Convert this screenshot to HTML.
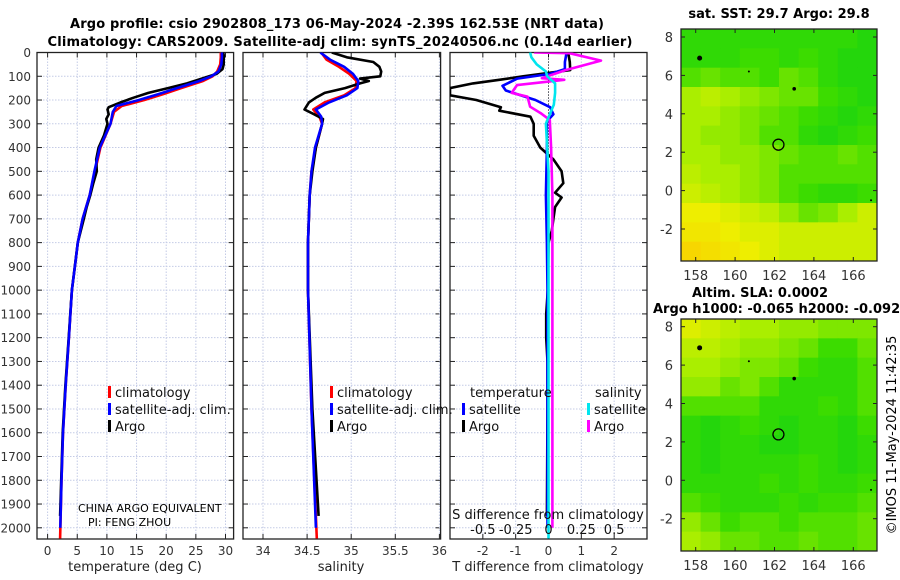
<!DOCTYPE html>
<html><head><meta charset="utf-8"><style>
html,body{margin:0;padding:0;background:#fff;}
svg{display:block;font-family:"DejaVu Sans","Liberation Sans",sans-serif;}
</style></head><body>
<svg id="fig" width="900" height="580" viewBox="0 0 900 580">
<text x="337" y="28" text-anchor="middle" font-size="13" font-weight="bold" textLength="534">Argo profile: csio 2902808_173 06-May-2024 -2.39S 162.53E (NRT data)</text>
<text x="340" y="46" text-anchor="middle" font-size="13" font-weight="bold" textLength="585">Climatology: CARS2009. Satellite-adj clim: synTS_20240506.nc (0.14d earlier)</text>
<g id="g1"></g>
<g id="g2"></g>
<g id="g3"></g>
<g id="m1"></g>
<g id="m2"></g>
<text x="78" y="512" font-size="11">CHINA ARGO EQUIVALENT</text>
<text x="88" y="526" font-size="11">PI: FENG ZHOU</text>
<text x="779" y="18" text-anchor="middle" font-size="13" font-weight="bold">sat. SST: 29.7 Argo: 29.8</text>
<text x="760" y="297" text-anchor="middle" font-size="13" font-weight="bold">Altim. SLA: 0.0002</text>
<text x="653" y="313" font-size="13" font-weight="bold">Argo h1000: -0.065 h2000: -0.092</text>
<text transform="translate(896,435) rotate(-90)" text-anchor="middle" font-size="13">©IMOS 11-May-2024 11:42:35</text>
</svg>
<script>
// ---- profile data ----
const tClimDepth=[0,20,50,80,100,120,150,175,200,225,250,300,400,500,600,700,800,900,1000,1200,1400,1600,1800,2045];
const tClim=[29.2,29.2,29.1,28.6,27.8,26.2,22.5,19.5,16.3,12.5,11.2,10.6,8.9,8.0,7.1,5.9,5.1,4.6,4.1,3.6,3.05,2.6,2.35,2.1];
const tSatDepth=[0,20,50,80,100,120,150,175,200,225,250,300,400,500,600,700,800,900,1000,1200,1400,1600,1800,2000];
const tSat=[29.4,29.4,29.3,28.8,27.6,25.6,21.8,18.7,15.4,11.6,11.0,10.6,8.8,7.9,7.1,5.9,5.1,4.6,4.1,3.6,3.05,2.6,2.35,2.15];
const tArgoDepth=[0,10,50,70,90,110,130,150,170,190,210,230,240,260,280,300,350,400,450,500,550,600,650,700,750,800,1000,1200,1400,1600,1800,1950];
const tArgo=[29.6,29.7,29.7,29.5,28.5,26.0,23.5,20.3,17.0,14.5,12.3,10.3,10.1,10.3,9.9,10.1,9.5,8.6,8.2,8.3,7.7,7.2,6.6,6.1,5.6,5.1,4.1,3.55,3.0,2.55,2.3,2.1];
const sClimDepth=[0,30,60,90,120,150,180,210,240,270,300,400,500,600,800,1000,1500,2045];
const sClim=[34.66,34.72,34.86,34.98,35.06,35.05,34.92,34.70,34.57,34.64,34.67,34.60,34.55,34.53,34.51,34.51,34.55,34.61];
const sSatDepth=[0,30,60,90,120,150,180,210,240,270,300,400,500,600,800,1000,1500,2000];
const sSat=[34.65,34.76,34.92,35.02,35.08,35.07,34.95,34.75,34.60,34.66,34.67,34.59,34.55,34.53,34.51,34.51,34.55,34.60];
const sArgoDepth=[0,20,40,60,80,100,110,120,130,150,170,190,210,240,260,280,300,400,500,600,800,1000,1500,1950];
const sArgo=[34.78,34.95,35.25,35.32,35.34,35.33,35.10,35.20,35.10,34.93,34.70,34.60,34.52,34.47,34.58,34.68,34.67,34.60,34.56,34.53,34.51,34.51,34.56,34.63];
const dTSatDepth=[0,40,70,90,110,140,160,200,230,260,290,400,600,800,1000,1500,2000];
const dTSat=[0.55,0.5,0.5,0.05,-0.95,-1.4,-1.3,-0.4,0.05,0.15,-0.05,-0.05,-0.08,-0.05,-0.03,-0.03,-0.03];
const dTArgoDepth=[0,40,74,100,115,130,150,180,200,230,245,270,300,350,400,450,500,550,590,610,650,700,750,800,1000,1100,1200,1300,1500,1950];
const dTArgo=[0.6,0.65,0.66,-0.77,-1.5,-2.3,-3.0,-3.0,-2.2,-1.45,-1.5,-0.55,-0.45,-0.45,-0.25,0.15,0.4,0.45,0.2,0.4,0.2,0.15,0.1,0.0,-0.02,-0.07,-0.07,-0.03,-0.03,-0.05];
const dSSatDepth=[0,20,50,80,100,130,170,220,260,300,500,1000,1500,2045];
const dSSat=[-0.14,-0.13,-0.09,-0.02,-0.01,0.05,0.05,0.04,0.01,-0.02,0.0,0.0,0.0,0.0];
const dSArgoDepth=[0,3,34,74,108,115,137,170,186,228,255,284,400,600,900,1500,2000];
const dSArgo=[-0.11,0.16,0.4,0.13,-0.05,0.12,-0.24,-0.28,-0.16,-0.14,-0.06,0.01,0.02,0.03,0.03,0.03,0.03];
const depthTicks=[0,100,200,300,400,500,600,700,800,900,1000,1100,1200,1300,1400,1500,1600,1700,1800,1900,2000];
const tempTicks=[0,5,10,15,20,25,30];
const salTicks=[34,34.5,35,35.5,36];
const salTickLabels=["34","34.5","35","35.5","36"];
const dTTicks=[-2,-1,0,1,2];
const dSTicks=[-0.5,-0.25,0,0.25,0.5];
const dSTickLabels=["-0.5","-0.25","0","0.25","0.5"];
// ---- map data (0 = dark green, 1 = orange) ----
const mapLonTicks=[158,160,162,164,166];
const mapLatTicks=[8,6,4,2,0,-2];
const sstGrid=[
[0.2,0.2,0.2,0.2,0.2,0.2,0.2,0.2,0.2,0.15],
[0.2,0.2,0.2,0.25,0.25,0.2,0.25,0.2,0.15,0.15],
[0.3,0.35,0.3,0.3,0.25,0.35,0.3,0.2,0.15,0.15],
[0.5,0.55,0.5,0.45,0.4,0.35,0.35,0.25,0.2,0.15],
[0.5,0.5,0.45,0.4,0.35,0.3,0.25,0.2,0.15,0.2],
[0.5,0.45,0.45,0.4,0.3,0.3,0.2,0.15,0.2,0.25],
[0.5,0.5,0.45,0.45,0.4,0.35,0.3,0.3,0.35,0.3],
[0.55,0.5,0.5,0.45,0.4,0.3,0.3,0.3,0.3,0.3],
[0.6,0.55,0.5,0.45,0.4,0.3,0.25,0.2,0.2,0.25],
[0.7,0.7,0.65,0.6,0.55,0.45,0.35,0.4,0.5,0.6],
[0.75,0.75,0.7,0.65,0.65,0.6,0.6,0.6,0.6,0.6],
[0.85,0.8,0.75,0.7,0.65,0.6,0.6,0.6,0.6,0.6]];
const slaGrid=[
[0.65,0.6,0.55,0.5,0.5,0.45,0.45,0.4,0.4,0.4],
[0.55,0.55,0.5,0.45,0.45,0.4,0.35,0.25,0.25,0.35],
[0.5,0.5,0.45,0.4,0.4,0.35,0.25,0.2,0.2,0.3],
[0.45,0.45,0.35,0.4,0.3,0.2,0.2,0.2,0.2,0.3],
[0.3,0.3,0.3,0.3,0.2,0.2,0.2,0.25,0.2,0.3],
[0.2,0.15,0.2,0.25,0.2,0.15,0.2,0.2,0.15,0.25],
[0.2,0.15,0.2,0.2,0.15,0.15,0.2,0.2,0.15,0.2],
[0.2,0.15,0.2,0.2,0.2,0.2,0.25,0.2,0.15,0.2],
[0.2,0.2,0.2,0.2,0.25,0.2,0.25,0.2,0.2,0.25],
[0.3,0.25,0.2,0.2,0.2,0.25,0.2,0.25,0.25,0.3],
[0.45,0.35,0.25,0.3,0.3,0.25,0.3,0.3,0.3,0.35],
[0.5,0.45,0.35,0.35,0.3,0.3,0.35,0.3,0.3,0.35]];
const argoLon=162.2, argoLat=2.39;

const NS='http://www.w3.org/2000/svg';
function mk(parent,tag,attrs,txt){const e=document.createElementNS(NS,tag);for(const k in attrs)e.setAttribute(k,attrs[k]);if(txt!==undefined)e.textContent=txt;parent.appendChild(e);return e;}
const Y0=52.5, Y1=539, yScale=d=>Y0+d*0.23765;

function panel(g,x0,x1,xs,ticks,labels,clipId,showY){
  const defs=mk(g,'defs',{});const cp=mk(defs,'clipPath',{id:clipId});mk(cp,'rect',{x:x0,y:Y0,width:x1-x0,height:Y1-Y0});
  depthTicks.forEach(d=>{const y=yScale(d);
    const gl=mk(g,'line',{x1:x0,x2:x1,y1:y,y2:y,stroke:'#c4cbe6','stroke-width':1,'stroke-dasharray':'1.5,1.5'});
    
    
    mk(g,'line',{x1:x0,x2:x0+5,y1:y,y2:y,stroke:'#222'});mk(g,'line',{x1:x1-5,x2:x1,y1:y,y2:y,stroke:'#222'});
    if(showY){const t=mk(g,'text',{x:x0-6,y:y+4.5,'text-anchor':'end','font-size':12,fill:'#333'},String(d));
      
      }
  });
  ticks.forEach((v,i)=>{const x=xs(v);
    const gl=mk(g,'line',{x1:x,x2:x,y1:Y0,y2:Y1,stroke:'#c4cbe6','stroke-width':1,'stroke-dasharray':'1.5,1.5'});
    
    
    mk(g,'line',{x1:x,x2:x,y1:Y0,y2:Y0+5,stroke:'#222'});mk(g,'line',{x1:x,x2:x,y1:Y1-5,y2:Y1,stroke:'#222'});
    const t=mk(g,'text',{x:x,y:555,'text-anchor':'middle','font-size':12,fill:'#333'},labels[i]);
    
    
  });
  const b=mk(g,'rect',{x:x0,y:Y0,width:x1-x0,height:Y1-Y0,fill:'none',stroke:'#222','stroke-width':1.3});
  
  
}
function line(g,xs,vals,depths,color,name,clipId,w){
  const pts=vals.map((v,i)=>xs(v).toFixed(1)+','+yScale(depths[i]).toFixed(1)).join(' ');
  const p=mk(g,'polyline',{points:pts,fill:'none',stroke:color,'stroke-width':w||2.6,'stroke-linejoin':'round','clip-path':'url(#'+clipId+')'});
  
  
}
function legendItem(g,x,y,color,label,name){
  if(color){const r=mk(g,'rect',{x:x,y:y-11,width:3,height:12,fill:color});
    
    }
  const t=mk(g,'text',{x:x+7,y:y,'font-size':13,fill:'#111'},label);
  
  
}

// Temperature panel
const g1=document.getElementById('g1');
const xT=v=>47.6+v*5.93;
panel(g1,37,233.6,xT,tempTicks,tempTicks.map(String),'c1',true);
line(g1,xT,tClim,tClimDepth,'#ff0000','temp-climatology-line','c1');
line(g1,xT,tArgo,tArgoDepth,'#000000','temp-argo-line','c1');
line(g1,xT,tSat,tSatDepth,'#0000ff','temp-satellite-line','c1');
legendItem(g1,108,397,'#ff0000','climatology','temp-legend-climatology');
legendItem(g1,108,414,'#0000ff','satellite-adj. clim.','temp-legend-satellite');
legendItem(g1,108,431,'#000000','Argo','temp-legend-argo');
mk(g1,'text',{x:135,y:571,'text-anchor':'middle','font-size':13,fill:'#222',},'temperature (deg C)');

// Salinity panel
const g2=document.getElementById('g2');
const xS=v=>263+(v-34)*88.2;
panel(g2,243,440.6,xS,salTicks,salTickLabels,'c2',false);
line(g2,xS,sClim,sClimDepth,'#ff0000','sal-climatology-line','c2');
line(g2,xS,sArgo,sArgoDepth,'#000000','sal-argo-line','c2');
line(g2,xS,sSat,sSatDepth,'#0000ff','sal-satellite-line','c2');
legendItem(g2,330,397,'#ff0000','climatology','sal-legend-climatology');
legendItem(g2,330,414,'#0000ff','satellite-adj. clim.','sal-legend-satellite');
legendItem(g2,330,431,'#000000','Argo','sal-legend-argo');
mk(g2,'text',{x:341,y:571,'text-anchor':'middle','font-size':13,fill:'#222',},'salinity');

// Difference panel
const g3=document.getElementById('g3');
const xD=v=>548.5+v*32.83;
const xDS=v=>548.5+v*131.3;
panel(g3,450,647,xD,dTTicks,dTTicks.map(String),'c3',false);
mk(g3,'line',{x1:xD(0),x2:xD(0),y1:Y0,y2:Y1,stroke:'#000','stroke-width':1,'stroke-dasharray':'1,2',});
line(g3,xD,dTArgo,dTArgoDepth,'#000000','tdiff-argo-line','c3');
line(g3,xD,dTSat,dTSatDepth,'#0000ff','tdiff-satellite-line','c3');
line(g3,xDS,dSArgo,dSArgoDepth,'#ff00ff','sdiff-argo-line','c3');
line(g3,xDS,dSSat,dSSatDepth,'#00e5ee','sdiff-satellite-line','c3');
legendItem(g3,463,397,null,'temperature','diff-legend-temperature-heading');
legendItem(g3,462,414,'#0000ff','satellite','diff-legend-temp-satellite');
legendItem(g3,462,431,'#000000','Argo','diff-legend-temp-argo');
legendItem(g3,588,397,null,'salinity','diff-legend-salinity-heading');
legendItem(g3,587,414,'#00e5ee','satellite','diff-legend-sal-satellite');
legendItem(g3,587,431,'#ff00ff','Argo','diff-legend-sal-argo');
mk(g3,'text',{x:548,y:519,'text-anchor':'middle','font-size':13,fill:'#111',},'S difference from climatology');
dSTicks.forEach((v,i)=>{const t=mk(g3,'text',{x:xDS(v),y:534,'text-anchor':'middle','font-size':13,fill:'#111'},dSTickLabels[i]);
  
  });
mk(g3,'text',{x:548,y:571,'text-anchor':'middle','font-size':13,fill:'#222',},'T difference from climatology');

// Maps
function cmap(v){const stops=[[0,[0,204,30]],[0.25,[60,220,0]],[0.5,[170,238,0]],[0.7,[238,238,0]],[1,[255,190,0]]];
  for(let i=1;i<stops.length;i++){if(v<=stops[i][0]){const a=stops[i-1],b=stops[i],t=(v-a[0])/(b[0]-a[0]);
    return 'rgb('+a[1].map((c,j)=>Math.round(c+(b[1][j]-c)*t)).join(',')+')';}}return 'rgb(255,190,0)';}
function map(g,x0,y0,x1,y1,lat8y,grid,clipId){
  const lonX=l=>695.7+(l-158)*19.7, latY=l=>lat8y+(8-l)*19.2;
  const defs=mk(g,'defs',{});const cp=mk(defs,'clipPath',{id:clipId});mk(cp,'rect',{x:x0,y:y0,width:x1-x0,height:y1-y0});
  const cg=mk(g,'g',{'clip-path':'url(#'+clipId+')'});
  const rows=grid.length, cols=grid[0].length, cw=(x1-x0)/cols, ch=(y1-y0)/rows;
  grid.forEach((row,r)=>row.forEach((v,c)=>{
    const cell=mk(cg,'rect',{x:(x0+c*cw).toFixed(2),y:(y0+r*ch).toFixed(2),width:(cw+0.6).toFixed(2),height:(ch+0.6).toFixed(2),fill:cmap(v)});
    
    
  }));
  // islands
  [[158.2,6.9,2.5],[160.7,6.2,1],[163,5.3,1.8],[166.9,-0.5,1]].forEach(p=>mk(cg,'circle',{cx:lonX(p[0]),cy:latY(p[1]),r:p[2],fill:'#000'}));
  const mc=mk(cg,'circle',{cx:lonX(argoLon),cy:latY(argoLat),r:5.5,fill:'none',stroke:'#000','stroke-width':1.3});
  
  
  mk(g,'rect',{x:x0,y:y0,width:x1-x0,height:y1-y0,fill:'none',stroke:'#222','stroke-width':1.3,});
  mapLonTicks.forEach(l=>{const x=lonX(l);mk(g,'line',{x1:x,x2:x,y1:y1,y2:y1-4,stroke:'#222'});mk(g,'line',{x1:x,x2:x,y1:y0,y2:y0+4,stroke:'#222'});
    const t=mk(g,'text',{x:x,y:y1+19,'text-anchor':'middle','font-size':13,fill:'#333'},String(l));
    
    });
  mapLatTicks.forEach(l=>{const y=latY(l);mk(g,'line',{x1:x0,x2:x0+4,y1:y,y2:y,stroke:'#222'});mk(g,'line',{x1:x1-4,x2:x1,y1:y,y2:y,stroke:'#222'});
    const t=mk(g,'text',{x:x0-8,y:y+5,'text-anchor':'end','font-size':13,fill:'#333'},String(l));
    
    });
}
map(document.getElementById('m1'),681,29,877,261,37,sstGrid,'cm1');
map(document.getElementById('m2'),681,319,877,551,326.7,slaGrid,'cm2');
</script>
</body></html>
